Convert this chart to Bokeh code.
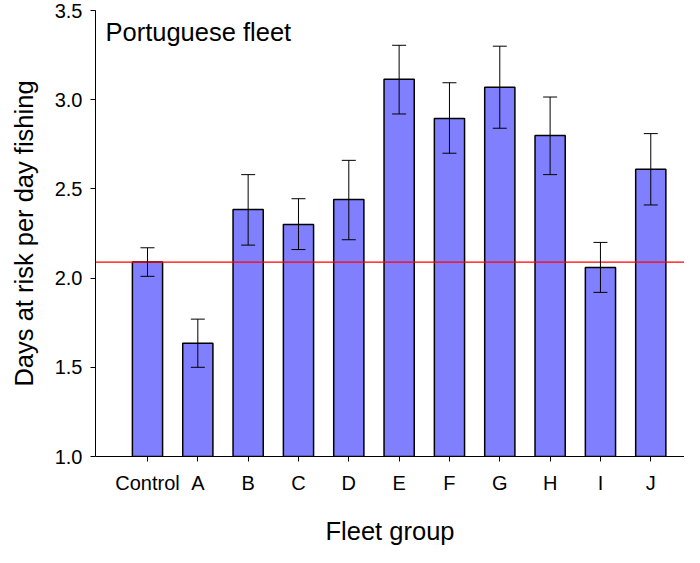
from bokeh.plotting import figure
from bokeh.models import ColumnDataSource, Whisker, Span, Label, FixedTicker, NumeralTickFormatter, Range1d
from bokeh.models import TeeHead
from bokeh.embed import file_html
from bokeh.resources import INLINE

categories = ["Control", "A", "B", "C", "D", "E", "F", "G", "H", "I", "J"]
means = [2.09, 1.635, 2.385, 2.30, 2.44, 3.115, 2.895, 3.07, 2.80, 2.06, 2.61]
lower = [2.01, 1.50, 2.185, 2.16, 2.215, 2.92, 2.70, 2.84, 2.58, 1.92, 2.41]
upper = [2.17, 1.77, 2.58, 2.445, 2.66, 3.305, 3.095, 3.30, 3.015, 2.20, 2.81]
reference_value = 2.09
y_ticks = [1.0, 1.5, 2.0, 2.5, 3.0, 3.5]

FONT = "Liberation Sans"
xs = list(range(len(categories)))
src = ColumnDataSource(dict(x=xs, top=means, lower=lower, upper=upper))

p = figure(width=684, height=547, output_backend="svg", toolbar_location=None,
           x_range=Range1d(-1.033, 10.67), y_range=Range1d(1.0, 3.5),
           min_border_left=95, min_border_right=0, min_border_top=10, min_border_bottom=83)
p.outline_line_color = None
p.xgrid.visible = False
p.ygrid.visible = False
p.background_fill_color = "white"

p.vbar(x="x", top="top", bottom=1.0, width=0.6, source=src,
       fill_color="#8080FF", line_color="black", line_width=1.5)

p.add_layout(Span(location=reference_value, dimension="width", line_color="#FF0000", line_width=1.2))

w = Whisker(base="x", upper="upper", lower="lower", source=src, level="overlay",
            line_color="black", line_width=1,
            upper_head=TeeHead(size=14, line_color="black", line_width=1),
            lower_head=TeeHead(size=14, line_color="black", line_width=1))
p.add_layout(w)

p.add_layout(Label(x=-0.835, y=3.38, text="Portuguese fleet", text_font=FONT,
                   text_font_size="25.5px", text_color="black", text_baseline="alphabetic"))

xa = p.xaxis[0]
xa.ticker = FixedTicker(ticks=xs)
xa.major_label_overrides = {i: c for i, c in enumerate(categories)}
xa.axis_label = "Fleet group"
ya = p.yaxis[0]
ya.ticker = FixedTicker(ticks=y_ticks)
ya.formatter = NumeralTickFormatter(format="0.0")
ya.axis_label = "Days at risk per day fishing"

for ax in (xa, ya):
    ax.axis_line_color = "black"
    ax.axis_line_width = 1
    ax.major_tick_line_color = "black"
    ax.major_tick_out = 5
    ax.major_tick_in = 0
    ax.minor_tick_line_color = None
    ax.major_label_text_font = FONT
    ax.major_label_text_font_size = "20px"
    ax.major_label_text_color = "black"
    ax.axis_label_text_font = FONT
    ax.axis_label_text_font_size = "25.5px"
    ax.axis_label_text_font_style = "normal"
    ax.axis_label_text_color = "black"

xa.major_label_standoff = 10
xa.axis_label_standoff = 20
ya.major_label_standoff = 8
ya.axis_label_standoff = 14

open("out.html", "w").write(file_html(p, INLINE))
